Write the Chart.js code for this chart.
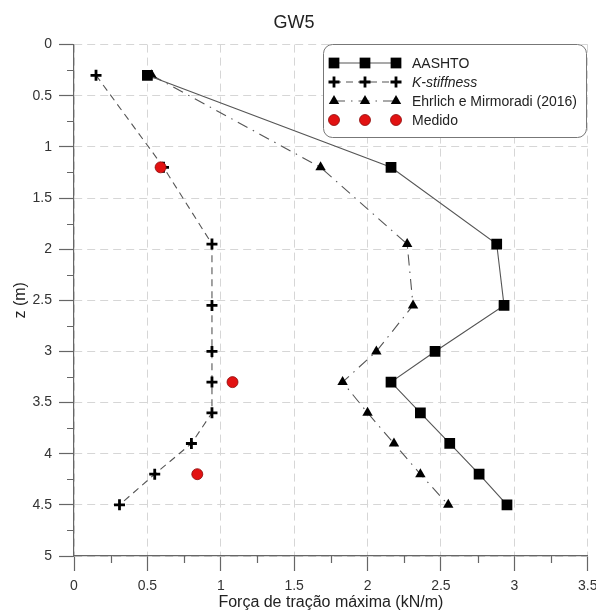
<!DOCTYPE html>
<html>
<head>
<meta charset="utf-8">
<script src="https://cdn.jsdelivr.net/npm/chart.js@4.4.0/dist/chart.umd.min.js"></script>
<style>
    html, body { margin: 0; padding: 0; background: #fff; }
</style>
</head>
<body>
<canvas id="chart" width="596" height="613"></canvas>
<script>
    // profundidade de cada camada de reforço (m)
    const depths = [0.3, 1.2, 1.95, 2.55, 3.0, 3.3, 3.6, 3.9, 4.2, 4.5];
    // força de tração máxima prevista (kN/m)
    const aashto = [0.50, 2.16, 2.88, 2.93, 2.46, 2.16, 2.36, 2.56, 2.76, 2.95];
    const kStiffness = [0.15, 0.61, 0.94, 0.94, 0.94, 0.94, 0.94, 0.80, 0.55, 0.31];
    const ehrlich = [0.53, 1.68, 2.27, 2.31, 2.06, 1.83, 2.00, 2.18, 2.36, 2.55];
    // valores medidos em campo
    const medDepths = [1.2, 3.3, 4.2];
    const medido = [0.59, 1.08, 0.84];

    const xTicks = [0, 0.5, 1, 1.5, 2, 2.5, 3, 3.5];
    const yTicks = [0, 0.5, 1, 1.5, 2, 2.5, 3, 3.5, 4, 4.5, 5];

    const FONT = '"Liberation Sans", Arial, sans-serif';
    const AXIS = '#666';

    function pts(xs, ys) {
        return xs.map((v, i) => ({ x: v, y: ys[i] }));
    }

    function drawMarker(ctx, ds, x, y) {
        ctx.save();
        ctx.fillStyle = ds.pointBackgroundColor;
        ctx.strokeStyle = ds.pointBorderColor;
        ctx.lineWidth = ds.pointBorderWidth;
        ctx.setLineDash([]);
        const opts = { pointStyle: ds.pointStyle, radius: ds.pointRadius, rotation: 0, borderWidth: ds.pointBorderWidth };
        Chart.helpers.drawPoint(ctx, opts, x, y);
        ctx.restore();
    }

    // ticks secundários (0.25) que o Chart.js não desenha
    const minorTicks = {
        id: 'minorTicks',
        afterDraw(chart) {
            const { ctx, scales: { x, y } } = chart;
            ctx.save();
            ctx.strokeStyle = AXIS;
            ctx.lineWidth = 1.2;
            ctx.beginPath();
            for (let i = 0; i < xTicks.length - 1; i++) {
                const px = Math.round(x.getPixelForValue((xTicks[i] + xTicks[i + 1]) / 2)) + 0.5;
                ctx.moveTo(px, x.top);
                ctx.lineTo(px, x.top + 7);
            }
            for (let i = 0; i < yTicks.length - 1; i++) {
                const py = Math.round(y.getPixelForValue((yTicks[i] + yTicks[i + 1]) / 2)) + 0.5;
                ctx.moveTo(y.right, py);
                ctx.lineTo(y.right - 7, py);
            }
            ctx.stroke();
            ctx.restore();
        }
    };

    // legenda com três marcadores por série, como no original
    const legendBox = {
        id: 'legendBox',
        afterDraw(chart, args, o) {
            const ctx = chart.ctx;
            ctx.save();
            ctx.beginPath();
            ctx.roundRect(o.x + 0.5, o.y + 0.5, o.w, o.h, 9);
            ctx.fillStyle = '#fff';
            ctx.fill();
            ctx.strokeStyle = '#777';
            ctx.lineWidth = 1;
            ctx.stroke();

            o.order.forEach((idx, row) => {
                const ds = chart.data.datasets[idx];
                const cy = o.y + o.firstRow + row * o.rowGap;
                if (ds.showLine) {
                    ctx.save();
                    ctx.strokeStyle = ds.borderColor;
                    ctx.lineWidth = ds.borderWidth;
                    ctx.setLineDash(ds.borderDash || []);
                    ctx.beginPath();
                    ctx.moveTo(o.marks[0], cy);
                    ctx.lineTo(o.marks[o.marks.length - 1], cy);
                    ctx.stroke();
                    ctx.restore();
                }
                o.marks.forEach(mx => drawMarker(ctx, ds, mx, cy));
                ctx.fillStyle = '#222';
                ctx.textBaseline = 'middle';
                ctx.font = (ds.label === 'K-stiffness' ? 'italic ' : '') + '14px ' + FONT;
                ctx.fillText(ds.label, o.textX, cy + 1);
            });
            ctx.restore();
        }
    };

    new Chart(document.getElementById('chart'), {
        type: 'scatter',
        data: {
            datasets: [
                {
                    label: 'Medido',
                    data: pts(medido, medDepths),
                    showLine: false,
                    pointStyle: 'circle',
                    pointRadius: 5.5,
                    pointBackgroundColor: '#e21212',
                    pointBorderColor: '#8c0a0a',
                    pointBorderWidth: 0.8,
                    order: 0
                },
                {
                    label: 'AASHTO',
                    data: pts(aashto, depths),
                    showLine: true,
                    borderColor: '#555',
                    borderWidth: 1.1,
                    pointStyle: 'rect',
                    pointRadius: 7.6,
                    pointBackgroundColor: '#000',
                    pointBorderColor: '#000',
                    pointBorderWidth: 0,
                    order: 1
                },
                {
                    label: 'K-stiffness',
                    data: pts(kStiffness, depths),
                    showLine: true,
                    borderColor: '#555',
                    borderWidth: 1.1,
                    borderDash: [7, 5],
                    pointStyle: 'cross',
                    pointRadius: 5.5,
                    pointBackgroundColor: '#000',
                    pointBorderColor: '#000',
                    pointBorderWidth: 2.8,
                    order: 2
                },
                {
                    label: 'Ehrlich e Mirmoradi (2016)',
                    data: pts(ehrlich, depths),
                    showLine: true,
                    borderColor: '#555',
                    borderWidth: 1.1,
                    borderDash: [11, 6, 1.5, 6],
                    pointStyle: 'triangle',
                    pointRadius: 6,
                    pointBackgroundColor: '#000',
                    pointBorderColor: '#000',
                    pointBorderWidth: 0,
                    order: 3
                }
            ]
        },
        options: {
            responsive: false,
            animation: false,
            devicePixelRatio: 1,
            layout: { padding: { left: 0, right: 8, top: 0, bottom: 0 } },
            elements: { line: { tension: 0 } },
            plugins: {
                legend: { display: false },
                tooltip: { enabled: false },
                title: {
                    display: true,
                    text: 'GW5',
                    color: '#222',
                    font: { family: FONT, size: 18, weight: 'normal' },
                    padding: { top: 12, bottom: 11 }
                },
                legendBox: {
                    x: 323, y: 44, w: 263, h: 93,
                    firstRow: 19, rowGap: 19,
                    marks: [334, 365, 396], textX: 412,
                    order: [1, 2, 3, 0]
                }
            },
            scales: {
                x: {
                    type: 'linear',
                    min: 0,
                    max: 3.5,
                    afterBuildTicks: s => { s.ticks = xTicks.map(v => ({ value: v })); },
                    afterFit: s => { s.height = 57; s.paddingLeft = 0; s.paddingRight = 0; },
                    ticks: {
                        color: '#333',
                        padding: 7,
                        maxRotation: 0,
                        font: { family: FONT, size: 14 },
                        callback: v => String(v)
                    },
                    grid: { color: '#d6d6d6', lineWidth: 1, tickLength: 15, tickColor: AXIS, tickWidth: 1.2, tickBorderDash: [] },
                    border: { display: true, color: AXIS, width: 1.2, dash: [8, 5] },
                    title: {
                        display: true,
                        text: 'Força de tração máxima (kN/m)',
                        color: '#222',
                        font: { family: FONT, size: 16 },
                        padding: { top: 0, bottom: 1 }
                    }
                },
                y: {
                    type: 'linear',
                    reverse: true,
                    min: 0,
                    max: 5,
                    afterBuildTicks: s => { s.ticks = yTicks.map(v => ({ value: v })); },
                    afterFit: s => { s.width = 74; s.paddingTop = 0; s.paddingBottom = 0; },
                    ticks: {
                        color: '#333',
                        padding: 7,
                        font: { family: FONT, size: 14 },
                        callback: v => String(v)
                    },
                    grid: { color: '#d6d6d6', lineWidth: 1, tickLength: 15, tickColor: AXIS, tickWidth: 1.2, tickBorderDash: [] },
                    border: { display: true, color: AXIS, width: 1.2, dash: [8, 5] },
                    title: {
                        display: true,
                        text: 'z (m)',
                        color: '#222',
                        font: { family: FONT, size: 16 },
                        padding: { top: 11, bottom: 0 }
                    }
                }
            }
        },
        plugins: [minorTicks, legendBox]
    });
</script>
</body>
</html>
